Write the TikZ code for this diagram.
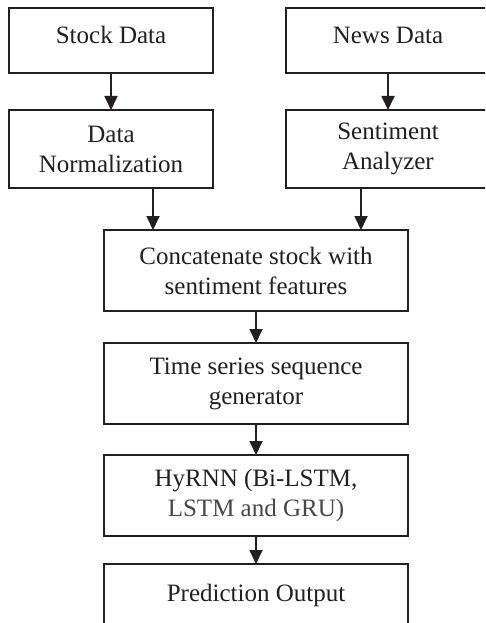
\documentclass[tikz,border=0pt]{standalone}
\usepackage{fontspec}
\setmainfont{Liberation Serif}
\usetikzlibrary{arrows.meta}
\definecolor{ink}{HTML}{231F20}
\begin{document}
\begin{tikzpicture}[x=1pt,y=-1pt,
  box/.style={draw=ink,line width=1.8pt,text=ink,inner sep=0pt,outer sep=0pt,
    align=center,font=\fontsize{25}{30}\selectfont},
  arr/.style={draw=ink,line width=1.8pt,-{Triangle[width=13pt,length=14pt]}}]
\useasboundingbox (0,0) rectangle (485,623);
\clip (0,0) rectangle (485,623);
\fill[white] (0,0) rectangle (485,623);
% boxes
\node[box,minimum width=204pt,minimum height=65pt,text depth=11pt] (sd) at (111,40.5) {Stock Data};
\node[box,minimum width=204pt,minimum height=65pt,text depth=11pt] (nd) at (388,40.5) {News Data};
\node[box,minimum width=204pt,minimum height=78pt] (dn) at (111,149) {Data\\Normalization};
\node[box,minimum width=204pt,minimum height=78pt] (sa) at (388,149) {Sentiment\\Analyzer};
\node[box,minimum width=304pt,minimum height=81pt] (cc) at (256,270.5) {Concatenate stock with\\sentiment features};
\node[box,minimum width=304pt,minimum height=81pt] (ts) at (256,383.5) {Time series sequence\\generator};
\node[box,minimum width=304pt,minimum height=81pt] (hy) at (256,495.5) {HyRNN (Bi-LSTM,\\\textcolor{black!72}{LSTM and GRU)}};
\node[box,minimum width=304pt,minimum height=62pt] (po) at (256,595) {Prediction Output};
% connector columns
\coordinate (xa) at (153,0);
\coordinate (xb) at (361,0);
% arrows
\draw[arr] (sd.south) -- (dn.north);
\draw[arr] (nd.south) -- (sa.north);
\draw[arr] (dn.south -| xa) -- (cc.north -| xa);
\draw[arr] (sa.south -| xb) -- (cc.north -| xb);
\draw[arr] (cc.south) -- (ts.north);
\draw[arr] (ts.south) -- (hy.north);
\draw[arr] (hy.south) -- (po.north);
\end{tikzpicture}
\end{document}
